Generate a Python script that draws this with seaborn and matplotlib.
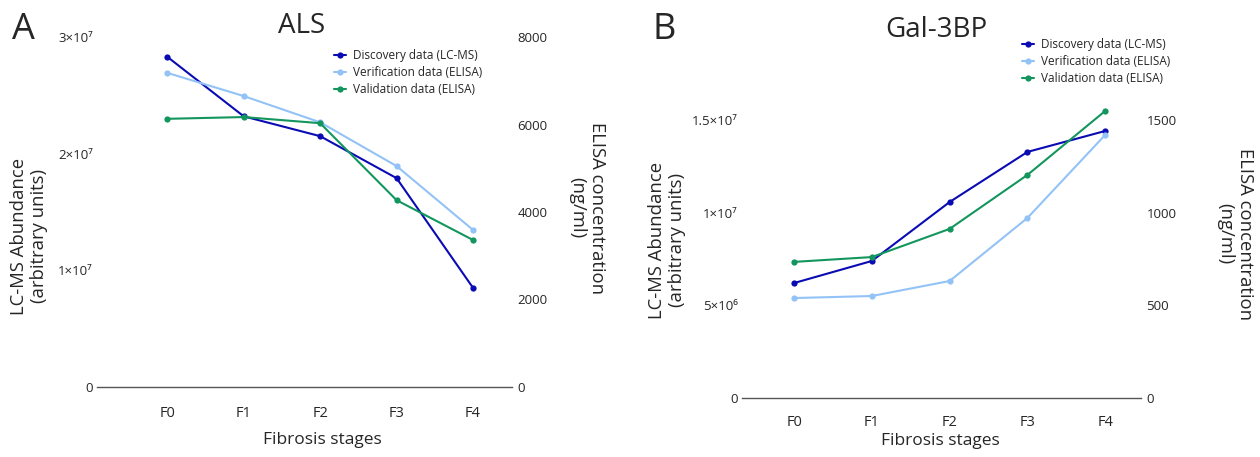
import matplotlib
matplotlib.use('Agg')
import matplotlib.pyplot as plt
import seaborn as sns
from matplotlib.ticker import FixedLocator, FixedFormatter

# stages on the x axis
stages = ['F0', 'F1', 'F2', 'F3', 'F4']

# ALS (panel A)
als_discovery = [2.83e7, 2.32e7, 2.15e7, 1.79e7, 0.85e7]     # LC-MS, left axis
als_verification = [7180, 6650, 6050, 5050, 3590]            # ELISA, right axis
als_validation = [6130, 6170, 6030, 4270, 3360]              # ELISA, right axis

# Gal-3BP (panel B)
gal_discovery = [6.2e6, 7.39e6, 10.57e6, 13.27e6, 14.4e6]
gal_verification = [539, 550, 631, 971, 1419]
gal_validation = [734, 760, 912, 1203, 1548]

# tick labels
als_left_ticks = [0, 1e7, 2e7, 3e7]
als_left_labels = ['0', '1×10⁷', '2×10⁷', '3×10⁷']
als_right_ticks = [0, 2000, 4000, 6000, 8000]
gal_left_ticks = [0, 5e6, 1e7, 1.5e7]
gal_left_labels = ['0', '5×10⁶', '1×10⁷', '1.5×10⁷']
gal_right_ticks = [0, 500, 1000, 1500]

series_names = ['Discovery data (LC-MS)', 'Verification data (ELISA)', 'Validation data (ELISA)']
colors = ['#0b0bb3', '#93c3f6', '#13965e']

sns.set_style('white')
plt.rcParams['font.family'] = ['Open Sans', 'DejaVu Sans']

fig = plt.figure(figsize=(12.6, 4.57), dpi=100)
W, H = 1260, 457


def panel(px_left, px_right, px_bottom, px_top, disc, verif, valid,
          lticks, llabels, lmax, rticks, rmax, xlim, tick_pad):
    ax = fig.add_axes([px_left / W, 1 - px_bottom / H,
                       (px_right - px_left) / W, (px_bottom - px_top) / H])
    ax2 = ax.twinx()
    sns.lineplot(x=stages, y=disc, ax=ax, color=colors[0], marker='o',
                 markersize=4.5, markeredgewidth=0, linewidth=1.5, label=series_names[0])
    sns.lineplot(x=stages, y=verif, ax=ax2, color=colors[1], marker='o',
                 markersize=4.5, markeredgewidth=0, linewidth=1.5, label=series_names[1])
    sns.lineplot(x=stages, y=valid, ax=ax2, color=colors[2], marker='o',
                 markersize=4.5, markeredgewidth=0, linewidth=1.5, label=series_names[2])
    h1, l1 = ax.get_legend_handles_labels()
    h2, l2 = ax2.get_legend_handles_labels()
    ax.get_legend().remove()
    ax2.get_legend().remove()

    ax.set_ylim(0, lmax)
    ax2.set_ylim(0, rmax)
    ax.set_xlim(*xlim)
    ax.yaxis.set_major_locator(FixedLocator(lticks))
    ax.yaxis.set_major_formatter(FixedFormatter(llabels))
    ax2.yaxis.set_major_locator(FixedLocator(rticks))
    ax2.set_yticklabels([str(t) for t in rticks])
    for a in (ax, ax2):
        for s in ['top', 'left', 'right', 'bottom']:
            a.spines[s].set_visible(False)
        a.tick_params(length=0, labelsize=9.5)
        a.set_xlabel('')
        a.set_ylabel('')
    ax.spines['bottom'].set_visible(True)
    ax.spines['bottom'].set_color('#555555')
    ax.spines['bottom'].set_linewidth(1.0)
    ax.tick_params(axis='x', labelsize=10.5, pad=tick_pad)
    ax.tick_params(axis='y', pad=3)
    ax2.tick_params(axis='y', pad=4)
    return ax, ax2, h1 + h2, l1 + l2


# panel A
axA, axA2, hA, lA = panel(97, 512, 387, 37, als_discovery, als_verification, als_validation,
                          als_left_ticks, als_left_labels, 3e7, als_right_ticks, 8000,
                          (-0.92, 4.51), 14)
fig.legend(hA, lA, loc='upper left', bbox_to_anchor=(334 / W, 1 - 49 / H), frameon=False,
           fontsize=8.5, handlelength=1.0, handletextpad=0.6, labelspacing=0.35,
           borderpad=0, borderaxespad=0)

# panel B
axB, axB2, hB, lB = panel(742, 1141, 398, 100, gal_discovery, gal_verification, gal_validation,
                          gal_left_ticks, gal_left_labels, 1.607e7, gal_right_ticks, 1607,
                          (-0.67, 4.46), 12)
fig.legend(hB, lB, loc='upper left', bbox_to_anchor=(1022 / W, 1 - 38 / H), frameon=False,
           fontsize=8.5, handlelength=1.0, handletextpad=0.6, labelspacing=0.35,
           borderpad=0, borderaxespad=0)

# axis labels
fig.text(29 / W, 1 - 236 / H, 'LC-MS Abundance\n(arbitrary units)', rotation=90,
         ha='center', va='center', fontsize=13.3, linespacing=1.1)
fig.text(587 / W, 1 - 208 / H, 'ELISA concentration\n(ng/ml)', rotation=270,
         ha='center', va='center', fontsize=13.3, linespacing=1.1)
fig.text(322 / W, 1 - 440 / H, 'Fibrosis stages', ha='center', va='center', fontsize=12.5)

fig.text(667 / W, 1 - 240 / H, 'LC-MS Abundance\n(arbitrary units)', rotation=90,
         ha='center', va='center', fontsize=13.3, linespacing=1.1)
fig.text(1235 / W, 1 - 234 / H, 'ELISA concentration\n(ng/ml)', rotation=270,
         ha='center', va='center', fontsize=13.3, linespacing=1.1)
fig.text(940 / W, 1 - 441 / H, 'Fibrosis stages', ha='center', va='center', fontsize=12.5)

# titles and panel letters
fig.text(302 / W, 1 - 33 / H, 'ALS', ha='center', va='baseline', fontsize=20)
fig.text(936 / W, 1 - 37 / H, 'Gal-3BP', ha='center', va='baseline', fontsize=20)
fig.text(12 / W, 1 - 39 / H, 'A', ha='left', va='baseline', fontsize=26)
fig.text(652 / W, 1 - 39 / H, 'B', ha='left', va='baseline', fontsize=26)

fig.savefig('out.png', dpi=100)
